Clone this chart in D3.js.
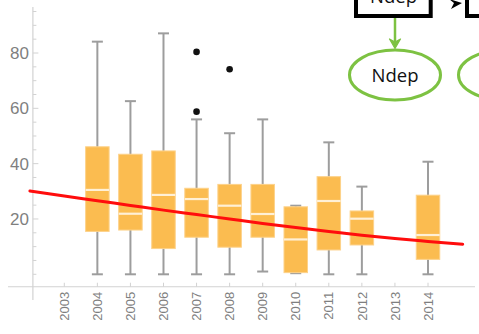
<!DOCTYPE html>
<html>
<head>
<meta charset="utf-8">
<script src="https://cdn.jsdelivr.net/npm/d3@7"></script>
<style>
  html, body { margin: 0; padding: 0; background: #fff; }
  svg { display: block; }
</style>
</head>
<body>
<svg id="chart" width="479" height="334"></svg>
<script>
// Yearly box-plot summaries
const years        = [2004, 2005, 2006, 2007, 2008, 2009, 2010, 2011, 2012, 2014];
const whiskerLow   = [0,    0,    0,    0,    0,    1,    0.4,  0,    0,    0];
const q1           = [15.5, 16.0, 9.3,  13.4, 9.8,  13.4, 0.6,  8.8,  10.6, 5.4];
const medians      = [30.5, 21.9, 28.7, 27.2, 24.8, 21.8, 12.6, 26.5, 20.1, 14.2];
const q3           = [46.1, 43.4, 44.6, 31.1, 32.5, 32.5, 24.4, 35.3, 22.9, 28.6];
const whiskerHigh  = [84.1, 62.6, 87.1, 56.0, 51.0, 56.0, 24.8, 47.7, 31.7, 40.7];

// Outlying observations
const outlierYears  = [2007, 2007, 2008];
const outlierValues = [80.4, 58.8, 74.1];

// Fitted trend
const trendYears  = [2001.96, 2003, 2004, 2005, 2006, 2007, 2008, 2009, 2010, 2011, 2012, 2013, 2014, 2015.05];
const trendValues = [30.1, 28.3, 26.6, 24.9, 23.2, 21.6, 20.0, 18.4, 16.9, 15.5, 14.1, 12.9, 11.9, 10.9];

// Axis ticks
const tickYears  = [2003, 2004, 2005, 2006, 2007, 2008, 2009, 2010, 2011, 2012, 2013, 2014];
const yLabels    = [20, 40, 60, 80];
const yMinor     = d3.range(0, 100, 5);

const svg = d3.select("#chart");

const x = d3.scaleLinear().domain([2003, 2014]).range([64.3, 428]);
const y = d3.scaleLinear().domain([0, 80]).range([274.3, 53]);

const axisColor = "#d2d2d2";
const labelColor = "#7f7f7f";
const font = "'Liberation Sans', Arial, sans-serif";

const xAxisY = y(-4.5);
const yAxisX = x(2002.05);

// x axis line and year ticks
svg.append("line")
  .attr("x1", 8).attr("x2", 475)
  .attr("y1", xAxisY).attr("y2", xAxisY)
  .attr("stroke", axisColor).attr("stroke-width", 1.2);

svg.append("g").selectAll("line").data(tickYears).join("line")
  .attr("x1", d => x(d)).attr("x2", d => x(d))
  .attr("y1", xAxisY - 4).attr("y2", xAxisY)
  .attr("stroke", axisColor).attr("stroke-width", 1);

svg.append("g").selectAll("text").data(tickYears).join("text")
  .attr("transform", d => `translate(${x(d)},${xAxisY + 5}) rotate(-90)`)
  .attr("text-anchor", "end")
  .attr("dy", "0.36em")
  .attr("font-family", font).attr("font-size", 13)
  .attr("fill", labelColor)
  .text(d => d);

// y axis line and ticks
svg.append("line")
  .attr("x1", yAxisX).attr("x2", yAxisX)
  .attr("y1", y(96.6)).attr("y2", 300)
  .attr("stroke", axisColor).attr("stroke-width", 1.2);

svg.append("g").selectAll("line").data(yMinor).join("line")
  .attr("x1", yAxisX).attr("x2", d => yAxisX + (d % 20 === 0 && d > 0 ? 5.5 : 3.5))
  .attr("y1", d => y(d)).attr("y2", d => y(d))
  .attr("stroke", axisColor).attr("stroke-width", 1);

svg.append("g").selectAll("text").data(yLabels).join("text")
  .attr("x", yAxisX - 4).attr("y", d => y(d))
  .attr("dy", "0.36em")
  .attr("text-anchor", "end")
  .attr("font-family", font).attr("font-size", 17)
  .attr("fill", labelColor)
  .text(d => d);

// box plots
const boxW = 23.5, capW = 11;
const whiskerColor = "#9d9d9d";
const boxes = svg.append("g");
years.forEach((yr, i) => {
  const cx = x(yr);
  const g = boxes.append("g");
  g.append("line")
    .attr("x1", cx).attr("x2", cx)
    .attr("y1", y(whiskerHigh[i])).attr("y2", y(whiskerLow[i]))
    .attr("stroke", whiskerColor).attr("stroke-width", 2);
  [whiskerHigh[i], whiskerLow[i]].forEach(v => {
    g.append("line")
      .attr("x1", cx - capW / 2).attr("x2", cx + capW / 2)
      .attr("y1", y(v)).attr("y2", y(v))
      .attr("stroke", whiskerColor).attr("stroke-width", 2);
  });
  g.append("rect")
    .attr("x", cx - boxW / 2).attr("width", boxW)
    .attr("y", y(q3[i])).attr("height", y(q1[i]) - y(q3[i]))
    .attr("fill", "#fbbc50")
    .attr("stroke", "#fdd28a").attr("stroke-width", 1);
  g.append("line")
    .attr("x1", cx - boxW / 2).attr("x2", cx + boxW / 2)
    .attr("y1", y(medians[i])).attr("y2", y(medians[i]))
    .attr("stroke", "#fff0d6").attr("stroke-width", 2.2);
});

// outliers
svg.append("g").selectAll("circle").data(outlierYears).join("circle")
  .attr("cx", d => x(d))
  .attr("cy", (d, i) => y(outlierValues[i]))
  .attr("r", 3.3)
  .attr("fill", "#111");

// trend curve
const trendLine = d3.line()
  .x(d => x(d[0])).y(d => y(d[1]))
  .curve(d3.curveMonotoneX);
svg.append("path")
  .datum(trendYears.map((t, i) => [t, trendValues[i]]))
  .attr("d", trendLine)
  .attr("fill", "none")
  .attr("stroke", "#ff0d0d").attr("stroke-width", 3)
  .attr("stroke-linecap", "round");

// flow diagram fragment in the upper right
const diag = svg.append("g");
diag.append("rect")
  .attr("x", 356).attr("y", -30).attr("width", 74.7).attr("height", 46)
  .attr("fill", "#fff").attr("stroke", "#000").attr("stroke-width", 4);
diag.append("text")
  .attr("x", 393.5).attr("y", 3)
  .attr("text-anchor", "middle")
  .attr("font-family", "'Open Sans', sans-serif").attr("font-size", 18.5)
  .attr("fill", "#111")
  .text("Ndep");
diag.append("rect")
  .attr("x", 467).attr("y", -30).attr("width", 60).attr("height", 46)
  .attr("fill", "#fff").attr("stroke", "#000").attr("stroke-width", 4);
diag.append("path")
  .attr("d", "M449,-1 L462,3 L451,9 L454,3 Z")
  .attr("fill", "#000");

const green = "#7dc242";
diag.append("line")
  .attr("x1", 395).attr("x2", 395)
  .attr("y1", 18).attr("y2", 44)
  .attr("stroke", green).attr("stroke-width", 2.5);
diag.append("path")
  .attr("d", "M389.5,39 L395,48.5 L400.5,39 L395,42 Z")
  .attr("fill", green).attr("stroke", green).attr("stroke-width", 1.2)
  .attr("stroke-linejoin", "round");
diag.append("ellipse")
  .attr("cx", 395).attr("cy", 75).attr("rx", 45.5).attr("ry", 25)
  .attr("fill", "#fff").attr("stroke", green).attr("stroke-width", 3);
diag.append("text")
  .attr("x", 395).attr("y", 81.5)
  .attr("text-anchor", "middle")
  .attr("font-family", "'Open Sans', sans-serif").attr("font-size", 18.5)
  .attr("fill", "#111")
  .text("Ndep");
diag.append("ellipse")
  .attr("cx", 504).attr("cy", 75).attr("rx", 45.5).attr("ry", 25)
  .attr("fill", "#fff").attr("stroke", green).attr("stroke-width", 3);
</script>
</body>
</html>
